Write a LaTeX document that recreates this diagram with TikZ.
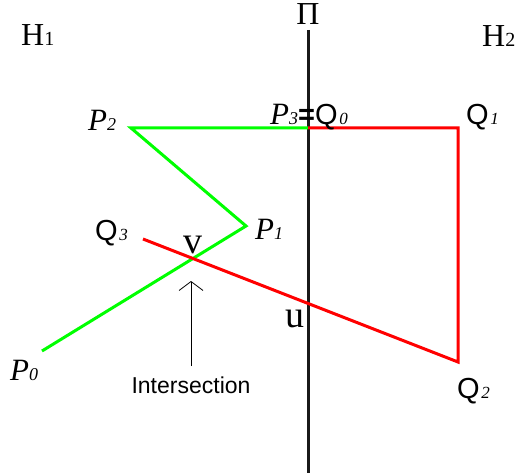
\documentclass[tikz,border=0pt]{standalone}
\usepackage{fontspec}
\setmainfont{Liberation Serif}
\setsansfont{Liberation Sans}
\usetikzlibrary{arrows.meta}

\newcommand{\plab}[1]{{\fontsize{31}{31}\selectfont\itshape P}{\fontsize{18}{18}\selectfont\itshape #1}}
\newcommand{\qlab}[1]{{\fontsize{29}{29}\selectfont\sffamily Q}\,{\fontsize{17}{17}\selectfont\itshape #1}}
\newcommand{\hlab}[1]{{\fontsize{32}{32}\selectfont H}{\fontsize{20}{20}\selectfont #1}}

\begin{document}
\begin{tikzpicture}[
        x=1pt, y=-1pt,
        lbl/.style={inner sep=0pt, anchor=base west},
        plane/.style={line width=3pt, black!90},
        pathP/.style={line width=3pt, green, line join=miter},
        pathQ/.style={line width=3pt, red, line join=miter},
        arrow/.style={-{Straight Barb[length=9pt, width=24pt]}, line width=0.8pt}
    ]
        \useasboundingbox (0,0) rectangle (519,473);

        % points of the two paths
        \coordinate (P0) at (42,351);
        \coordinate (P1) at (246,226);
        \coordinate (P2) at (131,128);
        \coordinate (P3) at (308,128);
        \coordinate (Q1) at (458,128);
        \coordinate (Q2) at (458,362);
        \coordinate (Q3) at (143,239);
        \coordinate (pitop) at (308,30);
        \coordinate (pibot) at (308,473);
        \coordinate (arrfoot) at (191,366);
        \coordinate (arrtip) at (191,281);

        % the plane Pi
        \draw[plane] (pitop) -- (pibot);

        % the two paths
        \draw[pathP] (P0) -- (P1) -- (P2) -- (P3);
        \draw[pathQ] (P3) -- (Q1) -- (Q2) -- (Q3);

        \draw[arrow] (arrfoot) -- (arrtip);

        % labels
        \node[lbl] (h1) at (21,46) {\hlab{1}};
        \node[lbl] (h2) at (482,47) {\hlab{2}};
        \node[inner sep=0pt, anchor=base] (pi) at (308,25) {\fontsize{32}{32}\selectfont Π};
        \node[lbl] (p2lab) at (88,131) {\plab{2}};
        \node[lbl] (p3lab) at (270,125) {\plab{3}{\fontsize{29}{29}\selectfont\sffamily\bfseries =}\qlab{0}};
        \node[lbl] (q1lab) at (466,125) {\qlab{1}};
        \node[lbl] (p1lab) at (255,239) {\plab{1}};
        \node[lbl] (q3lab) at (95,240) {\qlab{3}};
        \node[lbl] (vlab) at (183,253) {\fontsize{38}{38}\selectfont v};
        \node[lbl] (ulab) at (285,327) {\fontsize{38}{38}\selectfont u};
        \node[lbl] (p0lab) at (10,380) {\plab{0}};
        \node[lbl] (q2lab) at (457,398) {\qlab{2}};
        \node[inner sep=0pt, anchor=base] (isect) at (191,393) {\fontsize{23}{23}\selectfont\sffamily Intersection};
    \end{tikzpicture}
\end{document}
